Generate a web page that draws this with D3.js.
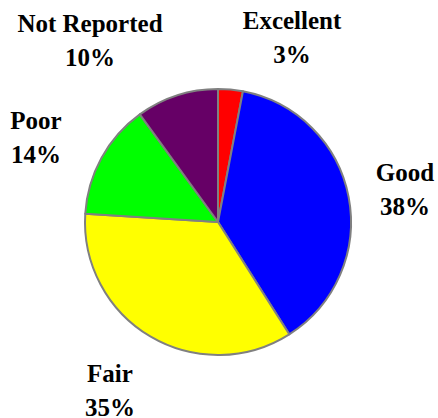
<!DOCTYPE html>
<html>
<head>
<meta charset="utf-8">
<script src="https://cdn.jsdelivr.net/npm/d3@7"></script>
<style>
html,body{margin:0;padding:0;background:#fff;}
svg{display:block;}
text.lab{font-family:"Liberation Serif","Times New Roman",Times,"Liberation Sans",Arial,sans-serif;font-weight:bold;}
</style>
</head>
<body>
<svg id="chart" width="438" height="418"></svg>
<script>
const categories = ["Excellent", "Good", "Fair", "Poor", "Not Reported"];
const values = [3, 38, 35, 14, 10];
const colors = ["#FF0000", "#0000FF", "#FFFF00", "#00FF00", "#660066"];
// label anchor (x, first-line baseline) in pixels
const labelPos = [[292, 29], [405, 181], [110, 382], [36, 129], [90, 32]];

const svg = d3.select("#chart");
const cx = 218, cy = 222, r = 133;
const data = categories.map((c, i) => ({cat: c, value: values[i], color: colors[i], pos: labelPos[i]}));
const pie = d3.pie().value(d => d.value).sort(null);
const arc = d3.arc().innerRadius(0).outerRadius(r);
const g = svg.append("g").attr("transform", `translate(${cx},${cy})`);
g.selectAll("path").data(pie(data)).enter().append("path")
  .attr("d", arc)
  .attr("fill", d => d.data.color)
  .attr("stroke", "#808080")
  .attr("stroke-width", 2)
  .attr("stroke-linejoin", "round");

const total = d3.sum(values);
const lab = svg.selectAll("text.lab").data(data).enter().append("text")
  .attr("class", "lab")
  .attr("text-anchor", "middle")
  .attr("font-size", 25)
  .attr("fill", "#000");
lab.append("tspan").attr("x", d => d.pos[0]).attr("y", d => d.pos[1]).text(d => d.cat);
lab.append("tspan").attr("x", d => d.pos[0]).attr("y", d => d.pos[1] + 34).text(d => Math.round(d.value / total * 100) + "%");
</script>
</body>
</html>
